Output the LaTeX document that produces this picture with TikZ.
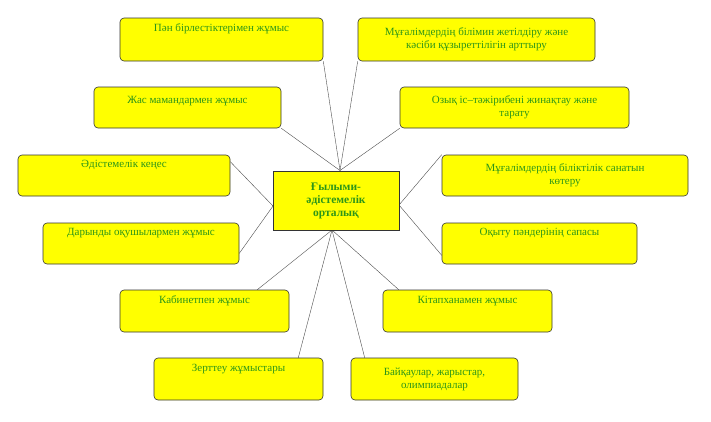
\documentclass[tikz,border=0pt]{standalone}
\usepackage{fontspec}
\setmainfont{Liberation Serif}
\usetikzlibrary{calc,backgrounds}
\definecolor{boxyellow}{RGB}{255,255,0}
\definecolor{boxgreen}{RGB}{45,150,25}

\begin{document}
\begin{tikzpicture}
            [x=1pt, y=-1pt, semithick,
             box/.style={draw=black!80, fill=boxyellow, rounded corners=4pt, align=center,
                         font=\fontsize{11}{13}\selectfont, text=boxgreen, inner sep=2pt},
             link/.style={draw=black!70, thin}]
            \useasboundingbox (0,0) rectangle (711,421);
            \node[box,rounded corners=0pt,minimum width=126pt,minimum height=59pt,font=\bfseries\fontsize{11.5}{13}\selectfont] (hub) at (336,200.5) {Ғылыми-\\әдістемелік\\орталық};

            \node[box,minimum width=203pt,minimum height=43pt] (b1) at (221.5,39.5) {Пән бірлестіктерімен жұмыс\\[10pt]};
            \node[box,minimum width=237pt,minimum height=43pt] (b2) at (476.5,39.5) {Мұғалімдердің білімин жетілдіру және\\кәсіби құзыреттілігін арттыру};
            \node[box,minimum width=187pt,minimum height=41pt] (b3) at (187.5,107.5) {Жас мамандармен жұмыс\\[2pt]};
            \node[box,minimum width=229pt,minimum height=41pt] (b4) at (514.5,107.5) {Озық іс–тәжірибені жинақтау және\\тарату};
            \node[box,minimum width=212pt,minimum height=41pt] (b5) at (124,175.5) {Әдістемелік кеңес\\[10pt]};
            \node[box,minimum width=246pt,minimum height=41pt] (b6) at (565,175.5) {Мұғалімдердің біліктілік санатын\\көтеру};
            \node[box,minimum width=196pt,minimum height=41pt] (b7) at (141,243.5) {Дарынды оқушылармен жұмыс\\[10pt]};
            \node[box,minimum width=195pt,minimum height=41pt] (b8) at (539.5,243.5) {Оқыту пәндерінің сапасы\\[10pt]};
            \node[box,minimum width=169pt,minimum height=42pt] (b9) at (204.5,311) {Кабинетпен жұмыс\\[10pt]};
            \node[box,minimum width=169pt,minimum height=42pt] (b10) at (467.5,311) {Кітапханамен жұмыс\\[10pt]};
            \node[box,minimum width=169pt,minimum height=42pt] (b11) at (238.5,379) {Зерттеу жұмыстары\\[10pt]};
            \node[box,minimum width=167pt,minimum height=42pt] (b12) at (434.5,379) {Байқаулар, жарыстар,\\олимпиадалар};

            \coordinate (hubT) at (340,170.5);
            \coordinate (hubL) at (273,206);
            \coordinate (hubR) at (399,205);
            \coordinate (hubB) at (332,230);

            \begin{scope}[on background layer]
            \draw[link] (hubT) -- (b1.south east);
            \draw[link] (hubT) -- (b2.south west);
            \draw[link] (hubT) -- (b3.south east);
            \draw[link] (hubT) -- (b4.south west);
            \draw[link] (hubL) -- ($(b5.north east)+(0,7)$);
            \draw[link] (hubL) -- ($(b7.south east)+(0,-11)$);
            \draw[link] (hubR) -- (b6.north west);
            \draw[link] (hubR) -- ($(b8.south west)+(0,-9)$);
            \draw[link] (hubB) -- ($(b9.north east)+(-32,0)$);
            \draw[link] (hubB) -- ($(b10.north west)+(16,0)$);
            \draw[link] (hubB) -- ($(b11.north east)+(-25,0)$);
            \draw[link] (hubB) -- ($(b12.north west)+(14,0)$);
            \end{scope}
        \end{tikzpicture}
\end{document}
